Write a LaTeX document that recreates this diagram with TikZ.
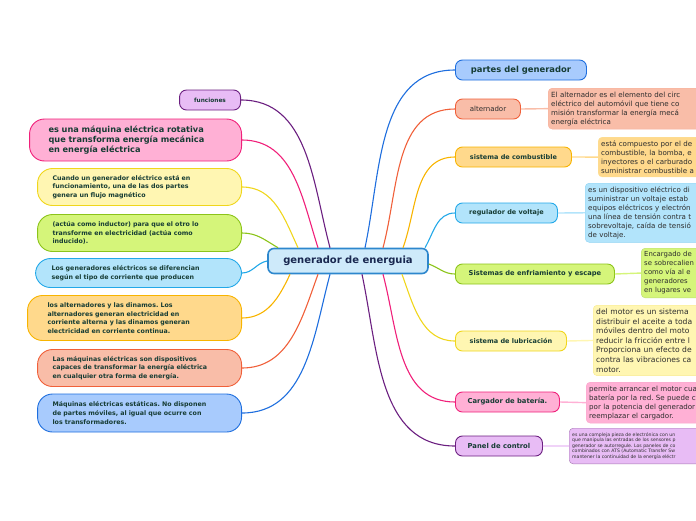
\documentclass[tikz,border=0pt]{standalone}
\usepackage{fontspec}
\setmainfont{DejaVu Sans}
\usetikzlibrary{positioning}
\frenchspacing
\definecolor{rootline}{RGB}{45,135,205}
\definecolor{rootfill}{RGB}{206,234,250}
\definecolor{rootink}{RGB}{25,40,80}
\definecolor{txtdark}{RGB}{22,60,52}
\definecolor{txtgray}{RGB}{45,45,45}
\definecolor{bluefill}{RGB}{168,203,253}
\definecolor{blueline}{RGB}{30,110,222}
\definecolor{salfill}{RGB}{249,189,168}
\definecolor{salline}{RGB}{240,96,58}
\definecolor{ambfill}{RGB}{255,217,140}
\definecolor{ambline}{RGB}{248,180,0}
\definecolor{skyfill}{RGB}{178,228,251}
\definecolor{skyline}{RGB}{34,168,232}
\definecolor{limefill}{RGB}{213,245,122}
\definecolor{limeline}{RGB}{140,196,26}
\definecolor{yelfill}{RGB}{255,246,178}
\definecolor{yelline}{RGB}{240,214,28}
\definecolor{pinkfill}{RGB}{255,176,213}
\definecolor{pinkline}{RGB}{240,32,122}
\definecolor{purfill}{RGB}{232,188,245}
\definecolor{purline}{RGB}{107,31,128}

\begin{document}
\begin{tikzpicture}[x=1pt, y=-1pt,
        topic/.style={rectangle, draw=rootline, fill=rootfill, line width=1.6pt, rounded corners=6pt,
                      minimum width=160pt, minimum height=25pt, text=rootink,
                      font=\fontsize{10}{11}\selectfont\bfseries},
        branch/.style={rectangle, rounded corners=7pt, line width=0.9pt, minimum height=20pt,
                       anchor=west, inner sep=2pt, text=txtdark,
                       font=\fontsize{6.5}{8}\selectfont\bfseries},
        note/.style={rectangle, rounded corners=4pt, line width=0.4pt, anchor=north west,
                     align=left, text width=200pt, inner xsep=3pt, inner ysep=3.5pt, text=txtgray,
                     font=\fontsize{7.1}{9}\selectfont},
        side/.style={rectangle, rounded corners=15pt, line width=0.9pt, anchor=east, align=left,
                     text width=174pt, inner xsep=15pt, inner ysep=2pt, text=txtdark,
                     font=\fontsize{6.3}{8.6}\selectfont\bfseries},
        link/.style={line width=1.1pt},
        tie/.style={line width=1.4pt},
    ]
        \useasboundingbox (0,0) rectangle (696,520);
        \clip (0,0) rectangle (696,520);

        % Nodo central
        \node[topic] (gen) at (348,261) {generador de energuia};

        % Ramas de la derecha
        \node[branch, fill=bluefill, draw=blueline, minimum width=131pt,
              font=\fontsize{8.4}{9}\selectfont\bfseries] (partes) at (455,70) {partes del generador};
        \node[branch, fill=salfill, draw=salline, minimum width=65pt, text=txtgray,
              font=\fontsize{7}{8}\selectfont] (alt) at (455,109) {alternador};
        \node[branch, fill=ambfill, draw=ambline, minimum width=116pt] (comb) at (455,157)
            {sistema de combustible};
        \node[branch, fill=skyfill, draw=skyline, minimum width=102pt] (reg) at (455,213)
            {regulador de voltaje};
        \node[branch, fill=limefill, draw=limeline, minimum width=159pt,
              font=\fontsize{6.7}{8}\selectfont\bfseries] (enf) at (455,274)
            {Sistemas de enfriamiento y escape};
        \node[branch, fill=yelfill, draw=yelline, minimum width=111pt] (lub) at (455,341)
            {sistema de lubricación};
        \node[branch, fill=pinkfill, draw=pinkline, minimum width=104pt,
              font=\fontsize{6.8}{8}\selectfont\bfseries] (carg) at (455,402) {Cargador de batería.};
        \node[branch, fill=purfill, draw=purline, minimum width=87pt,
              font=\fontsize{6.8}{8}\selectfont\bfseries] (panel) at (455,446) {Panel de control};

        \draw[link, blueline] ([xshift=17pt]gen.north) to[out=78, in=180] (partes.west);
        \draw[link, salline] ([xshift=35pt]gen.north) to[out=75, in=180] (alt.west);
        \draw[link, ambline] ([xshift=55pt]gen.north) to[out=70, in=180] (comb.west);
        \draw[link, skyline] ([xshift=77pt]gen.north) to[out=60, in=180] (reg.west);
        \draw[link, limeline] ([yshift=-3pt]gen.east) to[out=-20, in=180] (enf.west);
        \draw[link, yelline] ([xshift=54pt]gen.south) to[out=-70, in=180] (lub.west);
        \draw[link, pinkline] ([xshift=35pt]gen.south) to[out=-75, in=180] (carg.west);
        \draw[link, purline] ([xshift=14pt]gen.south) to[out=-78, in=180] (panel.west);

        % Notas de cada parte
        \node[note, fill=salfill, draw=salline!50] (altnote) at (548,88)
            {El alternador es el elemento del circ\\eléctrico del automóvil que tiene co\\misión transformar la energía mecá\\energía eléctrica};
        \node[note, fill=ambfill, draw=ambline!40] (combnote) at (598,137)
            {está compuesto por el de\\combustible, la bomba, e\\inyectores o el carburado\\suministrar combustible a};
        \node[note, fill=skyfill, draw=skyline!50] (regnote) at (585,183)
            {es un dispositivo eléctrico di\\suministrar un voltaje estab\\equipos eléctricos y electrón\\una línea de tensión contra t\\sobrevoltaje, caída de tensió\\de voltaje.};
        \node[note, fill=limefill, draw=limeline!60, font=\fontsize{6.9}{9}\selectfont] (enfnote) at (641,248)
            {Encargado de\\se sobrecalien\\como vía al e\\generadores\\en lugares ve};
        \node[note, fill=yelfill, draw=yelline!50, font=\fontsize{7.6}{9.6}\selectfont] (lubnote) at (593,305)
            {del motor es un sistema\\distribuir el aceite a toda\\móviles dentro del moto\\reducir la fricción entre l\\Proporciona un efecto de\\contra las vibraciones ca\\motor.};
        \node[note, fill=pinkfill, draw=pinkline!40] (cargnote) at (586,382)
            {permite arrancar el motor cua\\batería por la red. Se puede c\\por la potencia del generador\\reemplazar el cargador.};
        \node[note, fill=purfill, draw=purline!60, inner ysep=4.5pt,
              font=\fontsize{4.6}{5.5}\selectfont] (panelnote) at (569,428)
            {es una compleja pieza de electrónica con un\\que manipula las entradas de los sensores p\\generador se autorregule. Los paneles de co\\combinados con ATS (Automatic Transfer Sw\\mantener la continuidad de la energía eléctr};

        \draw[tie, salfill] (alt.east) -- (altnote.west);
        \draw[tie, ambfill] (comb.east) -- (combnote.west);
        \draw[tie, skyfill] (reg.east) -- (regnote.west);
        \draw[tie, limefill] (enf.east) -- (enfnote.west);
        \draw[tie, yelfill] (lub.east) -- (lubnote.west);
        \draw[tie, pinkfill] (carg.east) -- (cargnote.west);
        \draw[tie, purfill] (panel.east) -- (panelnote.west);

        % Ramas de la izquierda
        \node[branch, anchor=east, fill=purfill, draw=purline, minimum width=61pt,
              font=\fontsize{5.8}{7}\selectfont\bfseries] (func) at (241,100) {funciones};
        \node[side, fill=pinkfill, draw=pinkline, minimum height=42pt, inner xsep=19pt,
              font=\fontsize{8.2}{10}\selectfont\bfseries] (rotativa) at (242,140)
            {es una máquina eléctrica rotativa\\que transforma energía mecánica\\en energía eléctrica};
        \node[side, fill=yelfill, draw=yelline, minimum height=37pt] (flujo) at (242,187)
            {Cuando un generador eléctrico está en\\funcionamiento, una de las dos partes\\genera un flujo magnético};
        \node[side, fill=limefill, draw=limeline, minimum height=37pt] (inductor) at (242,233)
            {(actúa como inductor) para que el otro lo\\transforme en electricidad (actúa como\\inducido).};
        \node[side, fill=skyfill, draw=skyline, minimum height=29pt, inner xsep=16pt] (tipo) at (242,273)
            {Los generadores eléctricos se diferencian\\según el tipo de corriente que producen};
        \node[side, fill=ambfill, draw=ambline, minimum height=45pt, inner xsep=20pt] (dinamos) at (242,318)
            {los alternadores y las dinamos. Los\\alternadores generan electricidad en\\corriente alterna y las dinamos generan\\electricidad en corriente continua.};
        \node[side, fill=salfill, draw=salline, minimum height=37pt] (maquinas) at (242,368)
            {Las máquinas eléctricas son dispositivos\\capaces de transformar la energía eléctrica\\en cualquier otra forma de energía.};
        \node[side, fill=bluefill, draw=blueline, minimum height=38pt] (estaticas) at (242,413)
            {Máquinas eléctricas estáticas. No disponen\\de partes móviles, al igual que ocurre con\\los transformadores.};

        \draw[link, purline] ([xshift=-18pt]gen.north) to[out=105, in=0] (func.east);
        \draw[link, pinkline] ([xshift=-30pt]gen.north) to[out=108, in=0] (rotativa.east);
        \draw[link, yelline] ([xshift=-50pt]gen.north) to[out=115, in=0] (flujo.east);
        \draw[link, limeline] ([xshift=-70pt]gen.north) to[out=150, in=0] (inductor.east);
        \draw[link, skyline] (gen.west) to[out=190, in=0] (tipo.east);
        \draw[link, ambline] ([xshift=-58pt]gen.south) to[out=-115, in=0] (dinamos.east);
        \draw[link, salline] ([xshift=-30pt]gen.south) to[out=-110, in=0] (maquinas.east);
        \draw[link, blueline] ([xshift=-18pt]gen.south) to[out=-105, in=0] (estaticas.east);
    \end{tikzpicture}
\end{document}
